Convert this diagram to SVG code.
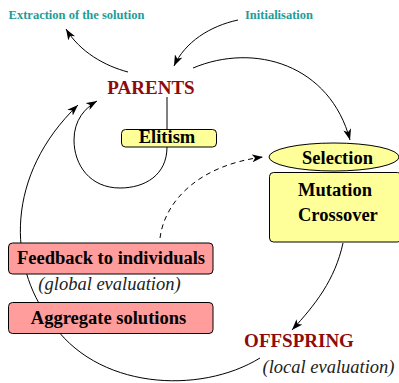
<svg xmlns="http://www.w3.org/2000/svg" width="399" height="383" viewBox="0 0 399 383">
<style>
.bg{fill:#ffffff}
.conn{fill:none;stroke:#000;stroke-width:1}
.dash{stroke-dasharray:5,4}
.arr{marker-end:url(#ah)}
.yel{fill:#ffff99;stroke:#000;stroke-width:1}
.pink{fill:#ff9c9c;stroke:#000;stroke-width:1}
.b{font-weight:bold;fill:#000;text-anchor:middle}
.big{font-size:18.5px}
.red{fill:#8e0b0b;font-size:19px}
.teal{fill:#1e9c98;font-size:12.5px}
.it{font-style:italic;font-size:18.5px;fill:#222;text-anchor:middle}
</style>
<defs>
<marker id="ah" markerWidth="12" markerHeight="8" refX="11" refY="4" orient="auto" markerUnits="userSpaceOnUse">
<path d="M0,0 L11,4 L0,8 L3,4 z" fill="#000"/>
</marker>
</defs>
<rect class="bg" x="0" y="0" width="399" height="383"/>
<g id="connectors">
<path class="conn arr" d="M128,72 C105,66 80,52 66,29"/>
<path class="conn arr" d="M238,20 C210,26 185,42 174,66"/>
<path class="conn arr" d="M193,68 C255,42 330,65 350,140"/>
<line class="conn" x1="167" y1="97" x2="167" y2="129"/>
<path class="conn arr" d="M167,147 C167,175 145,188 120,188 C90,188 74,165 74,140 C74,120 85,108 97,101"/>
<path class="conn arr" d="M260,358 C200,395 95,390 50,320 C8,265 5,175 78,105"/>
<path class="conn dash arr" d="M160,238 C165,200 200,165 263,157"/>
<path class="conn arr" d="M343,243 C335,280 315,305 292,330"/>
</g>
<g font-family="Liberation Serif, DejaVu Serif, serif">
<g id="extraction"><text class="b teal" x="76.5" y="19">Extraction of the solution</text></g>
<g id="initialisation"><text class="b teal" x="279" y="19">Initialisation</text></g>
<g id="parents"><text class="b red" x="151" y="94">PARENTS</text></g>
<g id="elitism">
<rect class="yel" x="121.5" y="129.5" width="95" height="17.5" rx="4"/>
<text class="b big" x="167" y="143">Elitism</text>
</g>
<g id="selection">
<ellipse class="yel" cx="334" cy="157" rx="65" ry="14"/>
<text class="b big" x="337.5" y="163.5">Selection</text>
</g>
<g id="mutation">
<rect class="yel" x="269.5" y="172.5" width="132" height="69.5" rx="4"/>
<text class="b big" x="298" y="196" style="text-anchor:start">Mutation</text>
<text class="b big" x="298" y="221" style="text-anchor:start">Crossover</text>
</g>
<g id="feedback">
<rect class="pink" x="8.5" y="243" width="204.5" height="31" rx="4"/>
<text class="b big" x="111" y="264">Feedback to individuals</text>
<text class="it" x="109.5" y="290">(global evaluation)</text>
</g>
<g id="aggregate">
<rect class="pink" x="8.5" y="302.5" width="204.5" height="31" rx="4"/>
<text class="b big" x="108.5" y="323.5">Aggregate solutions</text>
</g>
<g id="offspring">
<text class="b red" x="299" y="347">OFFSPRING</text>
<text class="it" x="328.5" y="373">(local evaluation)</text>
</g>
</g>
</svg>
